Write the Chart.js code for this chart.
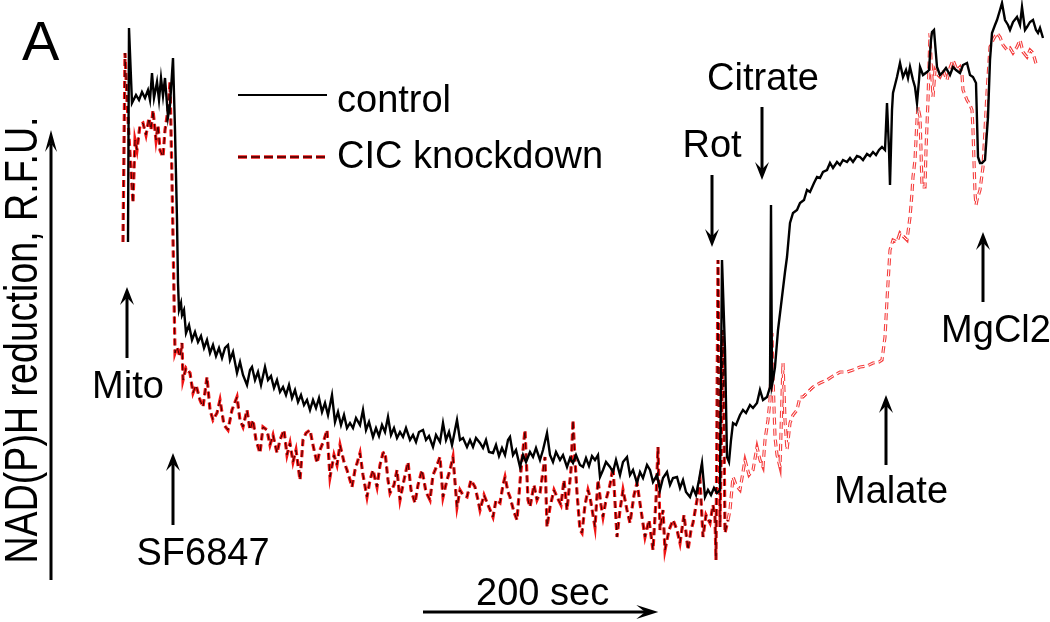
<!DOCTYPE html>
<html>
<head>
<meta charset="utf-8">
<script src="https://cdn.jsdelivr.net/npm/chart.js@4.4.1/dist/chart.umd.min.js"></script>
<style>
  html, body { margin: 0; padding: 0; background: #fff; }
  #wrap { width: 1050px; height: 622px; }
</style>
</head>
<body>
<div id="wrap"><canvas id="trace" width="1050" height="622"></canvas></div>
<script>
// Recording: one sample = 0.85 s, sample 0 = mitochondria added
const SAMPLE_SEC = 0.85;

// control trace (sample #, NAD(P)H fluorescence in R.F.U.)
const controlSample = [
  1, 2, 5, 9, 12, 15, 18, 21, 23, 25,
  27, 30, 32, 34, 36, 38, 41, 43, 46, 48,
  50, 51, 52, 54, 55, 57, 59, 62, 65, 68,
  71, 74, 77, 80, 83, 86, 89, 92, 95, 98,
  101, 103, 106, 110, 113, 116, 120, 123, 125, 128,
  131, 134, 138, 141, 144, 147, 150, 153, 156, 159,
  162, 165, 168, 171, 174, 177, 180, 183, 186, 189,
  192, 195, 198, 201, 205, 208, 211, 214, 217, 220,
  223, 226, 229, 233, 236, 239, 242, 246, 249, 252,
  255, 258, 261, 264, 267, 270, 273, 276, 279, 283,
  286, 289, 292, 296, 299, 302, 306, 309, 313, 316,
  319, 322, 325, 328, 330, 333, 336, 340, 343, 346,
  349, 353, 356, 359, 362, 366, 369, 372, 375, 378,
  381, 383, 386, 389, 393, 396, 399, 403, 406, 409,
  413, 416, 420, 423, 426, 429, 433, 436, 440, 443,
  446, 449, 453, 456, 459, 462, 465, 468, 471, 473,
  476, 479, 483, 486, 489, 493, 496, 500, 503, 506,
  510, 513, 516, 520, 523, 526, 530, 533, 536, 540,
  543, 546, 550, 553, 556, 559, 563, 566, 569, 572,
  575, 578, 581, 584, 587, 590, 593, 595, 598, 600,
  602, 604, 606, 609, 613, 616, 619, 623, 626, 630,
  633, 636, 640, 643, 644, 645, 646, 648, 651, 655,
  658, 660, 663, 666, 670, 673, 677, 680, 683, 687,
  690, 693, 696, 700, 703, 706, 710, 713, 716, 720,
  723, 726, 730, 733, 736, 740, 743, 746, 749, 752,
  755, 758, 760, 762, 763, 765, 766, 768, 770, 773,
  776, 779, 781, 783, 786, 788, 790, 792, 793, 796,
  800, 802, 804, 805, 807, 808, 810, 813, 816, 819,
  823, 826, 829, 833, 836, 840, 843, 846, 849, 850,
  851, 853, 855, 858, 861, 863, 865, 868, 870, 873,
  875, 878, 881, 883, 886, 890, 893, 895, 898, 900,
  903, 906, 909, 911, 913, 916
];
const controlRFU = [
  38.0, 59.4, 51.9, 52.7, 52.2, 53.0, 52.4, 53.2, 52.2, 54.9,
  52.4, 54.0, 52.2, 54.4, 52.6, 54.4, 50.5, 51.7, 56.4, 49.2,
  40.2, 33.9, 31.2, 31.9, 30.7, 31.2, 28.9, 29.7, 28.2, 29.0,
  28.0, 28.6, 27.4, 28.2, 26.9, 27.7, 26.6, 27.4, 26.4, 27.4,
  27.7, 26.2, 27.0, 24.9, 26.0, 24.7, 23.7, 25.2, 25.5, 24.2,
  25.0, 23.7, 25.5, 24.2, 24.6, 23.4, 24.2, 23.0, 23.5, 22.7,
  23.7, 22.4, 23.2, 22.0, 22.7, 21.7, 22.2, 21.2, 22.2, 21.4,
  22.4, 21.0, 21.9, 20.7, 22.7, 20.0, 21.0, 19.7, 20.7, 19.4,
  19.9, 19.4, 20.4, 19.7, 21.2, 19.2, 20.0, 18.5, 19.4, 18.6,
  19.7, 19.0, 20.5, 18.7, 19.4, 18.4, 19.0, 18.5, 19.4, 18.2,
  18.7, 18.0, 19.0, 19.2, 18.2, 18.6, 17.5, 18.7, 18.0, 19.9,
  18.2, 19.0, 17.7, 19.2, 20.2, 18.2, 18.4, 17.5, 18.2, 17.5,
  18.4, 17.9, 17.4, 18.2, 17.0, 16.9, 17.7, 16.6, 17.4, 16.7,
  18.2, 18.5, 16.7, 17.2, 15.5, 16.7, 16.0, 17.0, 16.5, 17.4,
  16.2, 17.2, 18.9, 16.7, 16.0, 17.0, 16.2, 16.7, 15.5, 16.4,
  15.9, 16.7, 15.7, 15.5, 16.4, 15.6, 16.6, 16.2, 16.7, 14.5,
  15.2, 16.0, 15.5, 15.0, 16.2, 14.7, 16.0, 16.5, 14.7, 15.2,
  13.9, 15.0, 14.4, 15.7, 15.2, 14.0, 14.7, 13.2, 14.4, 15.0,
  13.7, 14.4, 14.5, 13.4, 14.2, 13.0, 12.5, 13.4, 12.7, 14.2,
  15.9, 12.5, 13.2, 12.7, 13.4, 12.9, 13.2, 36.2, 27.2, 16.5,
  16.0, 18.2, 19.9, 19.7, 20.7, 21.2, 20.9, 21.7, 21.4, 21.9,
  23.2, 22.2, 22.5, 23.5, 41.7, 23.7, 24.2, 25.5, 29.2, 32.5,
  35.0, 36.5, 39.9, 40.9, 41.2, 41.9, 42.2, 43.2, 43.0, 43.9,
  44.5, 44.4, 45.0, 45.2, 45.9, 45.4, 46.0, 45.7, 46.2, 46.0,
  46.4, 46.0, 46.6, 46.5, 46.2, 46.8, 46.6, 47.0, 46.7, 47.2,
  47.5, 47.2, 51.9, 47.2, 43.7, 51.2, 52.9, 53.7, 54.5, 55.9,
  54.5, 55.2, 54.4, 55.5, 54.2, 53.5, 51.9, 54.2, 55.5, 54.7,
  55.0, 55.2, 58.2, 59.0, 59.2, 59.2, 55.5, 54.7, 55.0, 55.4,
  54.7, 55.5, 55.2, 54.9, 55.7, 55.9, 54.7, 54.5, 53.9, 50.2,
  46.5, 45.9, 45.9, 46.2, 50.5, 56.2, 58.9, 59.7, 60.2, 61.2,
  61.9, 60.2, 59.7, 59.2, 60.0, 60.5, 59.7, 61.5, 59.2, 59.5,
  60.0, 60.2, 59.2, 58.9, 59.4, 58.4
];

// CIC knockdown trace
const knockdownSample = [
  -4, -2, 0, 2, 4, 6, 8, 10, 13, 16,
  19, 22, 24, 26, 29, 31, 33, 36, 38, 41,
  43, 45, 46, 48, 50, 53, 55, 56, 59, 63,
  66, 69, 73, 76, 80, 83, 86, 90, 93, 97,
  101, 105, 110, 113, 116, 120, 123, 126, 129, 133,
  136, 140, 143, 146, 150, 153, 157, 160, 163, 166,
  169, 173, 176, 179, 183, 186, 190, 193, 197, 200,
  203, 207, 210, 213, 217, 220, 223, 225, 228, 231,
  233, 236, 240, 243, 246, 250, 253, 256, 258, 261,
  263, 267, 270, 273, 277, 281, 284, 288, 291, 295,
  299, 303, 306, 309, 313, 316, 320, 323, 326, 330,
  333, 336, 340, 344, 348, 351, 353, 357, 361, 366,
  369, 373, 376, 378, 381, 383, 387, 390, 394, 398,
  401, 403, 407, 410, 413, 418, 420, 423, 427, 430,
  434, 437, 440, 444, 446, 448, 450, 453, 455, 458,
  461, 463, 466, 468, 471, 474, 476, 479, 483, 486,
  490, 493, 496, 500, 503, 507, 510, 514, 518, 522,
  526, 529, 531, 533, 536, 538, 542, 546, 550, 553,
  557, 561, 564, 566, 570, 573, 576, 579, 583, 586,
  588, 589, 591, 593, 596, 598, 601, 603, 606, 609,
  613, 618, 622, 626, 630, 633, 636, 638, 641, 643,
  645, 646, 648, 650, 653, 656, 658, 660, 663, 666,
  670, 673, 676, 680, 686, 693, 700, 706, 713, 720,
  726, 733, 740, 746, 752, 755, 758, 760, 761, 763,
  766, 770, 773, 777, 780, 783, 785, 786, 788, 790,
  791, 793, 794, 795, 798, 799, 801, 803, 804, 806,
  808, 811, 813, 816, 820, 823, 826, 830, 833, 835,
  836, 840, 843, 845, 846, 848, 849, 850, 853, 856,
  858, 860, 863, 866, 870, 873, 876, 880, 883, 886,
  890, 893, 896, 900, 903, 906, 908, 910
];
const knockdownRFU = [
  38.0, 56.9, 52.2, 48.5, 45.2, 41.9, 48.2, 47.2, 49.7, 49.9,
  48.7, 50.4, 49.2, 51.2, 48.2, 49.7, 47.2, 46.5, 49.2, 51.2,
  54.0, 44.2, 38.5, 26.9, 27.5, 26.5, 27.9, 24.2, 25.4, 24.9,
  22.9, 23.7, 22.2, 21.5, 24.5, 21.2, 20.2, 20.9, 22.2, 19.7,
  19.2, 21.2, 22.5, 20.2, 19.5, 21.2, 19.2, 20.2, 18.2, 16.9,
  19.5, 19.2, 17.7, 18.7, 16.9, 18.2, 19.2, 16.7, 17.9, 16.0,
  17.2, 14.2, 18.2, 18.9, 19.2, 17.7, 15.9, 17.2, 18.2, 19.2,
  14.5, 16.7, 15.7, 17.7, 16.0, 15.2, 14.2, 13.5, 15.2, 16.2,
  16.9, 14.7, 12.5, 14.2, 15.2, 13.5, 15.7, 16.9, 17.0, 14.2,
  12.9, 13.7, 15.2, 12.2, 14.2, 16.0, 13.2, 11.9, 13.7, 15.2,
  13.0, 12.2, 14.7, 15.4, 16.5, 12.5, 14.2, 15.2, 16.5, 11.5,
  13.2, 12.7, 12.5, 14.2, 13.5, 12.2, 11.2, 12.7, 11.7, 10.5,
  12.2, 11.9, 13.7, 14.5, 13.0, 12.5, 11.0, 10.2, 15.2, 19.2,
  12.2, 11.5, 13.7, 12.2, 12.9, 16.5, 9.5, 11.5, 13.2, 12.5,
  11.7, 14.2, 11.2, 15.2, 20.2, 16.2, 12.9, 9.2, 8.9, 11.7,
  13.2, 12.5, 10.7, 9.5, 14.2, 11.7, 10.5, 12.2, 13.7, 15.5,
  8.5, 11.2, 13.2, 11.2, 9.9, 12.7, 13.9, 11.2, 8.5, 10.2,
  7.2, 12.2, 17.5, 9.2, 11.2, 7.2, 9.2, 10.2, 9.2, 7.9,
  10.7, 7.2, 9.2, 9.9, 12.2, 14.2, 8.5, 10.7, 9.9, 11.7,
  10.5, 6.2, 36.2, 9.5, 29.2, 8.9, 10.2, 11.2, 14.5, 13.7,
  13.2, 16.2, 14.7, 15.2, 17.5, 16.2, 15.5, 18.2, 20.2, 22.2,
  28.9, 24.5, 18.5, 16.7, 15.5, 25.9, 20.2, 17.2, 19.9, 20.7,
  21.2, 22.5, 22.5, 22.9, 23.5, 23.9, 24.2, 24.6, 25.0, 25.0,
  25.2, 25.5, 25.6, 25.9, 26.0, 26.2, 28.5, 32.2, 33.9, 37.2,
  38.2, 38.0, 38.9, 38.5, 38.2, 40.5, 42.9, 44.5, 46.2, 50.2,
  51.5, 50.5, 47.2, 43.5, 43.5, 47.2, 52.2, 58.9, 56.2, 52.5,
  55.2, 54.7, 54.5, 55.2, 54.2, 55.4, 56.2, 55.2, 55.5, 54.7,
  53.2, 52.2, 51.7, 51.2, 49.2, 42.9, 41.7, 42.2, 43.2, 45.5,
  49.2, 52.9, 57.5, 58.2, 58.9, 58.5, 57.7, 57.2, 57.4, 56.9,
  57.5, 58.2, 57.0, 56.5, 57.2, 56.9, 56.2, 55.5
];

// additions during the run
const eventLabels = ['Mito', 'SF6847', 'Rot', 'Citrate', 'Malate', 'MgCl2'];
const eventSample = [0, 46, 585, 635, 759, 856];

// time scale bar
const scaleBarSec = 200;
const scaleBarStartSample = 296;

const yTitle = 'NAD(P)H reduction, R.F.U.';
const panelLetter = 'A';

// ---- layout / style (pixels) ----
const FONT = '"Liberation Sans", Arial, sans-serif';
const eventLayout = [
  { tailY: 358, tipY: 287, labelDx: 1, labelY: 398 },
  { tailY: 525, tipY: 453, labelDx: 30, labelY: 565 },
  { tailY: 175, tipY: 247, labelDx: 0, labelY: 157 },
  { tailY: 107, tipY: 180, labelDx: 1, labelY: 90 },
  { tailY: 465, tipY: 395, labelDx: 5, labelY: 503 },
  { tailY: 302, tipY: 232, labelDx: 13, labelY: 342 }
];
const RED_EDGE = '#f01414';
const RED_EDGE_LIGHT = '#f54040';
const RED_CORE = '#3a0000';
const DASH = [7, 4];
const LIGHT_FROM_SAMPLE = 600; // after rotenone the knockdown dashes are drawn hollow

const toPoints = (xs, ys) => xs.map((x, i) => ({ x: x, y: ys[i] }));

if (controlSample.length !== controlRFU.length || knockdownSample.length !== knockdownRFU.length) {
  console.warn('trace arrays have different lengths');
}

function drawArrow(ctx, x1, y1, x2, y2, len, half) {
  const a = Math.atan2(y2 - y1, x2 - x1);
  const ux = Math.cos(a), uy = Math.sin(a);
  ctx.beginPath();
  ctx.moveTo(x1, y1);
  ctx.lineTo(x2 - ux * len * 0.6, y2 - uy * len * 0.6);
  ctx.stroke();
  ctx.beginPath();
  ctx.moveTo(x2, y2);
  ctx.lineTo(x2 - ux * len - uy * half, y2 - uy * len + ux * half);
  ctx.lineTo(x2 - ux * len * 0.6, y2 - uy * len * 0.6);
  ctx.lineTo(x2 - ux * len + uy * half, y2 - uy * len - ux * half);
  ctx.closePath();
  ctx.fill();
}

const annotations = {
  id: 'figureAnnotations',
  afterDraw(chart) {
    const ctx = chart.ctx;
    const xScale = chart.scales.x;
    ctx.save();
    ctx.fillStyle = '#000';
    ctx.strokeStyle = '#000';
    ctx.setLineDash([]);

    // panel letter
    ctx.font = '56px ' + FONT;
    ctx.textAlign = 'left';
    ctx.textBaseline = 'alphabetic';
    ctx.fillText(panelLetter, 22, 60);

    // y title, squeezed along its length like the original
    ctx.save();
    ctx.translate(37, 340);
    ctx.rotate(-Math.PI / 2);
    ctx.scale(0.8, 1);
    ctx.font = '47px ' + FONT;
    ctx.textAlign = 'center';
    ctx.fillText(yTitle, 0, 0);
    ctx.restore();

    // y axis arrow
    ctx.lineWidth = 3;
    drawArrow(ctx, 51, 580, 51, 130, 22, 6);

    // legend
    const ds = chart.data.datasets;
    ctx.lineWidth = 2;
    ctx.beginPath();
    ctx.moveTo(238, 95);
    ctx.lineTo(327, 95);
    ctx.stroke();
    ctx.setLineDash([9, 4]);
    ctx.lineWidth = 3.4;
    ctx.strokeStyle = RED_EDGE;
    ctx.beginPath();
    ctx.moveTo(238, 157);
    ctx.lineTo(327, 157);
    ctx.stroke();
    ctx.lineWidth = 1.4;
    ctx.strokeStyle = RED_CORE;
    ctx.stroke();
    ctx.setLineDash([]);
    ctx.strokeStyle = '#000';
    ctx.font = '38px ' + FONT;
    ctx.fillText(ds[0].label, 337, 112);
    ctx.fillText(ds[1].label, 337, 168);

    // additions
    ctx.lineWidth = 3;
    ctx.textAlign = 'center';
    eventLabels.forEach((name, i) => {
      const x = xScale.getPixelForValue(eventSample[i]);
      const lay = eventLayout[i];
      drawArrow(ctx, x, lay.tailY, x, lay.tipY, 18, 7);
      ctx.fillText(name, x + lay.labelDx, lay.labelY);
    });

    // 200 sec bar
    const x0 = xScale.getPixelForValue(scaleBarStartSample);
    const x1 = xScale.getPixelForValue(scaleBarStartSample + scaleBarSec / SAMPLE_SEC);
    drawArrow(ctx, x0, 612, x1, 612, 22, 7);
    ctx.fillText(scaleBarSec + ' sec', (x0 + x1) / 2 + 2, 605);

    ctx.restore();
  }
};

const knockdownPoints = toPoints(knockdownSample, knockdownRFU);
const lateSegment = c => c.p0.parsed.x >= LIGHT_FROM_SAMPLE;

new Chart(document.getElementById('trace'), {
  type: 'line',
  data: {
    datasets: [
      {
        label: 'control',
        data: toPoints(controlSample, controlRFU),
        borderColor: '#000',
        borderWidth: 2.4,
        pointRadius: 0,
        tension: 0
      },
      {
        label: 'CIC knockdown',
        data: knockdownPoints,
        borderColor: RED_CORE,
        borderWidth: 1,
        borderDash: DASH,
        pointRadius: 0,
        tension: 0,
        segment: { borderColor: c => lateSegment(c) ? '#fff' : RED_CORE }
      },
      {
        label: 'CIC knockdown outline',
        data: knockdownPoints,
        borderColor: RED_EDGE,
        borderWidth: 3.2,
        borderDash: DASH,
        pointRadius: 0,
        tension: 0,
        segment: { borderColor: c => lateSegment(c) ? RED_EDGE_LIGHT : RED_EDGE }
      }
    ]
  },
  options: {
    responsive: false,
    animation: false,
    devicePixelRatio: 1,
    layout: { padding: 0 },
    scales: {
      x: { type: 'linear', min: -127, max: 923, display: false },
      y: { type: 'linear', min: 0, max: 62.2, display: false }
    },
    plugins: {
      legend: { display: false },
      tooltip: { enabled: false }
    }
  },
  plugins: [annotations]
});
</script>
</body>
</html>
